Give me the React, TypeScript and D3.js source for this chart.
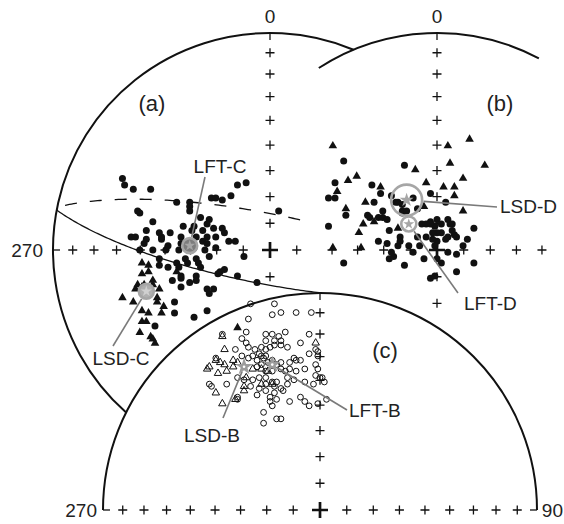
import * as d3 from "d3";

type Pt = [number, number];

// Equal-area projected positions, [east, north] in % of the primitive radius.
// Net (a): filled circles / filled triangles
const aDots: Pt[] = [
  [-68, 33], [-67, 30], [-63, 28], [-55, 28], [-15, 30], [-11, 31], [-43, 22], [-37, 22], [-37, 20], [-37, 18],
  [-27, 24], [-25, 24], [-22, 23], [-18, 25], [4, 18], [-61, 18], [-60, 17], [-54, 13], [-32, 15], [-28, 14],
  [-29, 12], [-35, 11], [-57, 9], [-51, 8], [-50, 6], [-50, 5], [-46, 8], [-31, 9], [-29, 6], [-26, 10],
  [-22, 10], [-21, 8], [-25, 6], [-19, 4], [-16, 4], [-64, 6], [-62, 6], [-57, 5], [-58, 3], [-41, 6],
  [-31, 4], [-29, 3], [-25, 1], [-48, 0], [-54, 0], [-42, 0], [-12, -3], [-34, -4], [-33, -6], [-32, -8],
  [-43, -6], [-42, -8], [-51, -7], [-47, -8], [-41, -12], [-41, -13], [-45, -14], [-37, -15], [-41, -17], [-34, -12],
  [-34, -14], [-24, -11], [-23, -10], [-21, -9], [-15, -12], [-6, -15], [-29, -18], [-28, -20], [-26, -18], [-44, -24],
  [-29, -28], [-44, -29], [-35, -31], [-53, -35], [-51, -4], [-39, -4], [-30, 0], [-35, 1], [-41, 3], [-34, 6],
  [-36, 9], [-40, 11], [-28, -3], [-47, 2], [-38, -6], [-60, 0],
];
const aTriangles: Pt[] = [
  [-59, -6], [-56, -7], [-59, -11], [-56, -10], [-54, -14], [-62, -18], [-59, -17], [-68, -22], [-63, -24], [-51, -18],
  [-52, -24], [-49, -26], [-50, -29], [-59, -28], [-56, -29], [-59, -33], [-57, -33], [-60, -38], [-55, -40], [-54, -41],
  [-53, -43], [-43, -10], [-61, -16], [-58, -16], [-54, -16], [-52, -22],
];

// Net (b)
const bDots: Pt[] = [
  [-43, 41], [-15, 39], [-47, 31], [-50, 24], [-47, 24], [-42, 16], [-50, 11], [-30, 30], [-26, 26], [-29, 22],
  [-3, 26], [4, 22], [-11, 24], [-9, 19], [-32, 16], [-31, 15], [-27, 15], [-25, 15], [-23, 14], [-25, 18],
  [-16, 18], [-16, 17], [-18, 22], [-22, 9], [-27, 4], [-17, 6], [-17, 4], [-13, 2], [-11, -1], [-22, -4],
  [-20, -3], [-15, -7], [-43, -6], [-7, 12], [-5, 12], [-3, 13], [-1, 11], [0, 14], [2, 12], [5, 14],
  [6, 12], [7, 9], [8, 7], [9, 6], [5, 6], [2, 8], [0, 8], [-2, 8], [0, 4], [-1, 2],
  [-5, 6], [-8, 2], [-9, 6], [17, 10], [9, -2], [17, -6], [9, -10], [-3, -13], [-1, -12], [0, -4],
  [4, 5], [-21, 25], [-19, 22], [-16, 21], [-14, 18], [-23, 3], [-21, -1], [-18, 2], [-2, 5], [7, 12],
  [-3, 12], [-6, -4], [2, -6], [5, -1], [12, 2], [14, 5],
];
const bTriangles: Pt[] = [
  [-48, 48], [5, 48], [15, 51], [-10, 37], [6, 40], [22, 39], [-41, 32], [-37, 34], [-5, 31], [3, 29],
  [8, 29], [12, 33], [8, 25], [-46, 27], [-26, 29], [-33, 22], [-42, 19], [-29, 13], [-34, 12], [-36, 8],
  [-18, 10], [12, 18], [-6, 20], [-48, 1], [-35, 1],
];

// Net (c): open circles / open triangles (+ one filled triangle)
const cCircles: Pt[] = [
  [-32, 95], [-21, 95], [-22, 90], [-18, 91], [-11, 91], [-4, 91], [-33, 88], [-45, 81], [-34, 82], [-36, 79],
  [-34, 77], [-25, 81], [-22, 81], [-19, 80], [-16, 82], [-25, 78], [-21, 78], [-18, 78], [-21, 76], [-18, 76],
  [-15, 75], [-9, 77], [-5, 81], [-39, 74], [-33, 75], [-30, 74], [-27, 75], [-12, 70], [-9, 69], [-5, 72],
  [-1, 73], [-36, 71], [-33, 70], [-29, 69], [-26, 70], [-24, 68], [-22, 69], [-20, 67], [-18, 68], [-14, 68],
  [-11, 69], [-7, 65], [-2, 67], [-1, 65], [-50, 57], [-43, 58], [-38, 61], [-35, 60], [-31, 60], [-28, 61],
  [-25, 61], [-22, 59], [-20, 59], [-15, 61], [-12, 60], [-7, 59], [-2, 62], [1, 61], [2, 59], [-38, 51],
  [-29, 53], [-25, 55], [-23, 52], [-21, 54], [-20, 51], [-23, 50], [-22, 48], [-9, 52], [-7, 50], [-5, 48],
  [-1, 49], [3, 51], [-26, 45], [-26, 40], [-20, 42], [-18, 42], [-31, 71], [-28, 72], [-27, 71], [-25, 74],
  [-25, 71], [-23, 75], [-29, 66], [-27, 67], [-25, 64], [-22, 64], [-18, 65], [-16, 64], [-14, 65], [-11, 64],
  [-32, 57], [-28, 56], [-25, 58], [-18, 56], [-17, 55], [-21, 57], [-2, 74], [-1, 71], [0, 61], [-3, 58],
  [-14, 50], [-15, 58], [-51, 58], [-48, 70], [-38, 52],
];
const cTriangles: Pt[] = [
  [-45, 80], [-44, 74], [-48, 69], [-46, 68], [-44, 67], [-40, 69], [-38, 68], [-40, 66], [-52, 65], [-51, 66],
  [-43, 64], [-48, 54], [-45, 49], [-35, 57], [-27, 58], [-22, 58], [-35, 55], [-31, 65], [-27, 65], [-24, 64],
  [-2, 77], [-47, 63], [-39, 51], [-34, 61],
];
const cFilledTriangles: Pt[] = [[-38, 84]];

// mean directions
const meanNames = ["LFT-C", "LSD-C", "LSD-D", "LFT-D", "LSD-B", "LFT-B"];
const meanNets = ["a", "a", "b", "b", "c", "c"];
const meanPos: Pt[] = [[-37, 2], [-57, -19], [-14, 23], [-13, 12], [-35, 66], [-22, 67]];

// great circles in net (a): [dip direction, dip, from beta, to beta]
const solidPlane = [190.6, 77, 68, 180];
const dashedPlane = [11.4, 76.6, 0, 100];

const tickDeg = [10, 20, 30, 40, 50, 60, 70, 80];
const panelNames = ["(a)", "(b)", "(c)"];

// ---- layout ----
const W = 564;
const H = 524;
const R = 217;
const centres: Record<string, Pt> = { a: [270, 250], b: [437, 250], c: [320, 510] };
const netTicks: Record<string, Record<string, number>> = {
  a: { N: 8, E: 1, S: 1, W: 8 },
  b: { N: 8, E: 4, S: 2, W: 4 },
  c: { N: 8, E: 8, S: 0, W: 8 },
};
const edgeTicks: Record<string, number[]> = { a: [0, 270], b: [0], c: [0, 90, 270] };
const bArc = [-33, 28]; // azimuth span of the visible part of net (b)

const FONT = "'Liberation Sans', Arial, Helvetica, sans-serif";
const rad = Math.PI / 180;

function eqArea(trend: number, plunge: number): Pt {
  const r = Math.SQRT2 * Math.sin(((90 - plunge) / 2) * rad) * 100;
  return [r * Math.sin(trend * rad), r * Math.cos(trend * rad)];
}

function greatCircle([dipDir, dip, b0, b1]: number[]): Pt[] {
  const pts: Pt[] = [];
  for (let b = b0; b <= b1; b += 1) {
    const plunge = Math.asin(Math.sin(dip * rad) * Math.sin(b * rad)) / rad;
    const trend =
      dipDir - 90 + Math.atan2(Math.cos(dip * rad) * Math.sin(b * rad), Math.cos(b * rad)) / rad;
    pts.push(eqArea(trend, plunge));
  }
  return pts;
}

function scales(key: string) {
  const [cx, cy] = centres[key];
  return {
    x: d3.scaleLinear().domain([-100, 100]).range([cx - R, cx + R]),
    y: d3.scaleLinear().domain([-100, 100]).range([cy + R, cy - R]),
  };
}

function intersect(p: Pt, q: Pt): Pt[] {
  const dx = q[0] - p[0], dy = q[1] - p[1];
  const d = Math.hypot(dx, dy);
  const h = Math.sqrt(R * R - (d / 2) * (d / 2));
  const mx = p[0] + dx / 2, my = p[1] + dy / 2;
  return [
    [mx - (h * dy) / d, my + (h * dx) / d],
    [mx + (h * dy) / d, my - (h * dx) / d],
  ];
}

const triPath = d3.symbol(d3.symbolTriangle, 32)()!;
const openTriPath = d3.symbol(d3.symbolTriangle, 24)()!;

function Pluses({ net }: { net: string }) {
  const s = scales(net);
  const t = netTicks[net];
  const dirs: [string, number][] = [["N", 0], ["E", 90], ["S", 180], ["W", 270]];
  const pts: Pt[] = [];
  dirs.forEach(([d, az]) => {
    for (let i = 0; i < t[d]; i++) pts.push(eqArea(az, 90 - tickDeg[i]));
  });
  const [cx, cy] = centres[net];
  return (
    <g stroke="#111" fill="none">
      {pts.map((p, i) => {
        const x = s.x(p[0]), y = s.y(p[1]);
        return (
          <path key={i} d={`M${x - 4.5},${y}H${x + 4.5}M${x},${y - 4.5}V${y + 4.5}`} strokeWidth={1.3} />
        );
      })}
      <path d={`M${cx - 8},${cy}H${cx + 8}M${cx},${cy - 8}V${cy + 8}`} strokeWidth={2.7} />
      {edgeTicks[net].map((az) => {
        const o = eqArea(az, 0);
        const x0 = s.x(o[0]), y0 = s.y(o[1]);
        const ux = Math.sin(az * rad), uy = -Math.cos(az * rad);
        return <line key={"e" + az} x1={x0} y1={y0} x2={x0 - ux * 7} y2={y0 - uy * 7} strokeWidth={1.3} />;
      })}
    </g>
  );
}

function Dots({ net, pts }: { net: string; pts: Pt[] }) {
  const s = scales(net);
  return (
    <g fill="#111">
      {pts.map((p, i) => (
        <circle key={i} cx={s.x(p[0])} cy={s.y(p[1])} r={3.5} />
      ))}
    </g>
  );
}

function Tris({ net, pts, open }: { net: string; pts: Pt[]; open?: boolean }) {
  const s = scales(net);
  return (
    <g fill={open ? "none" : "#111"} stroke={open ? "#111" : "none"} strokeWidth={1}>
      {pts.map((p, i) => (
        <path key={i} d={open ? openTriPath : triPath} transform={`translate(${s.x(p[0])},${s.y(p[1])})`} />
      ))}
    </g>
  );
}

function OpenCircles({ net, pts }: { net: string; pts: Pt[] }) {
  const s = scales(net);
  return (
    <g fill="none" stroke="#111" strokeWidth={1}>
      {pts.map((p, i) => (
        <circle key={i} cx={s.x(p[0])} cy={s.y(p[1])} r={2.9} />
      ))}
    </g>
  );
}

function lineOf(net: string, pts: Pt[]) {
  const s = scales(net);
  return d3.line<Pt>().x((d) => s.x(d[0])).y((d) => s.y(d[1]))(pts) || "";
}

// annotation layout: label anchor, text anchor, leader start, symbol style
const annot: Record<string, { lx: number; ly: number; anchor: string; from: Pt; kind: string }> = {
  "LFT-C": { lx: 220, ly: 173, anchor: "middle", from: [205, 177], kind: "ringDark" },
  "LSD-C": { lx: 121, ly: 365, anchor: "middle", from: [113, 346], kind: "ringLight" },
  "LSD-D": { lx: 500, ly: 213, anchor: "start", from: [497, 207], kind: "bigRing" },
  "LFT-D": { lx: 464, ly: 310, anchor: "start", from: [458, 293], kind: "ring" },
  "LSD-B": { lx: 212, ly: 442, anchor: "middle", from: [223, 418], kind: "star" },
  "LFT-B": { lx: 349, ly: 417, anchor: "start", from: [347, 410], kind: "star" },
};

function MeanSymbol({ x, y, kind }: { x: number; y: number; kind: string }) {
  const grey = "#a6a6a6";
  if (kind === "star") {
    return (
      <g>
        <path d={d3.symbol(d3.symbolStar, 95)()!} transform={`translate(${x},${y})`} fill="#9c9c9c" />
        <circle cx={x} cy={y} r={1.3} fill="#fff" />
      </g>
    );
  }
  const ringR = kind === "bigRing" ? 15.5 : 7.5;
  const fill = kind === "ringDark" ? "#7d7d7d" : kind === "ringLight" ? "#b0b0b0" : "none";
  return (
    <g>
      <circle cx={x} cy={y} r={ringR} fill={fill} stroke={grey} strokeWidth={2.6} />
      <path
        d={d3.symbol(d3.symbolStar, kind === "bigRing" ? 60 : 38)()!}
        transform={`translate(${x},${y})`}
        fill={kind === "ringLight" ? "#d0d0d0" : grey}
      />
    </g>
  );
}

export default function App() {
  const [acx, acy] = centres.a;
  const [bcx, bcy] = centres.b;
  const [ccx, ccy] = centres.c;

  // visible arc of net (a): from where it meets (c) round the west to where it meets (b)
  const ac = intersect(centres.a, centres.c).sort((p, q) => p[0] - q[0])[0];
  const ab = intersect(centres.a, centres.b).sort((p, q) => p[1] - q[1])[0];
  const a0 = Math.atan2(ac[1] - acy, ac[0] - acx);
  let a1 = Math.atan2(ab[1] - acy, ab[0] - acx);
  if (a1 < a0) a1 += 2 * Math.PI;
  const pa = d3.path();
  pa.moveTo(ac[0], ac[1]);
  pa.arc(acx, acy, R, a0, a1, false);

  const pb = d3.path();
  const b0 = (bArc[0] - 90) * rad, b1 = (bArc[1] - 90) * rad;
  pb.moveTo(bcx + R * Math.cos(b0), bcy + R * Math.sin(b0));
  pb.arc(bcx, bcy, R, b0, b1, false);

  const pc = d3.path();
  pc.moveTo(ccx - R, ccy);
  pc.arc(ccx, ccy, R, Math.PI, 2 * Math.PI, false);
  const pcFill = pc.toString() + "Z";

  const means = meanNames.map((name, i) => {
    const s = scales(meanNets[i]);
    return { name, x: s.x(meanPos[i][0]), y: s.y(meanPos[i][1]), ...annot[name] };
  });

  return (
    <svg
      width={W}
      height={H}
      style={{ position: "absolute", left: 0, top: 0, background: "#fff" }}
      fontFamily={FONT}
    >
      <rect width={W} height={H} fill="#fff" />
      {/* net (b) */}
      <path d={pb.toString()} fill="none" stroke="#111" strokeWidth={2} />
      <Pluses net="b" />
      <Dots net="b" pts={bDots} />
      <Tris net="b" pts={bTriangles} />

      {/* net (a) */}
      <path d={pa.toString()} fill="none" stroke="#111" strokeWidth={2} />
      <Pluses net="a" />
      <path d={lineOf("a", greatCircle(dashedPlane))} fill="none" stroke="#111" strokeWidth={1.3} strokeDasharray="12 13" strokeDashoffset={-8} />
      <path d={lineOf("a", greatCircle(solidPlane))} fill="none" stroke="#111" strokeWidth={1.3} />
      <Dots net="a" pts={aDots} />
      <Tris net="a" pts={aTriangles} />

      {/* net (c) */}
      <path d={pcFill} fill="#fff" stroke="none" />
      <path d={pc.toString()} fill="none" stroke="#111" strokeWidth={2} />
      <Pluses net="c" />
      <OpenCircles net="c" pts={cCircles} />
      <Tris net="c" pts={cTriangles} open />
      <Tris net="c" pts={cFilledTriangles} />

      {/* mean directions with leaders */}
      {means.map((m) => {
        const dx = m.from[0] - m.x, dy = m.from[1] - m.y;
        const len = Math.hypot(dx, dy);
        const edge = m.kind === "bigRing" ? 17 : m.kind === "star" ? 5 : 9;
        return (
          <g key={m.name}>
            <line
              x1={m.from[0]}
              y1={m.from[1]}
              x2={m.x + (dx / len) * edge}
              y2={m.y + (dy / len) * edge}
              stroke="#7a7a7a"
              strokeWidth={1.6}
            />
            <MeanSymbol x={m.x} y={m.y} kind={m.kind} />
            <text x={m.lx} y={m.ly} textAnchor={m.anchor} fontSize={19} fill="#222">
              {m.name}
            </text>
          </g>
        );
      })}

      {/* axis labels */}
      <g fontSize={19} fill="#222">
        <text x={acx} y={23} textAnchor="middle">0</text>
        <text x={bcx} y={23} textAnchor="middle">0</text>
        <text x={43} y={257} textAnchor="end">270</text>
        <text x={97} y={517} textAnchor="end">270</text>
        <text x={563} y={517} textAnchor="end">90</text>
      </g>

      {/* panel labels */}
      <g fontSize={22} fill="#222" textAnchor="middle">
        <text x={152} y={111}>{panelNames[0]}</text>
        <text x={500} y={111}>{panelNames[1]}</text>
        <text x={385} y={358}>{panelNames[2]}</text>
      </g>
    </svg>
  );
}
